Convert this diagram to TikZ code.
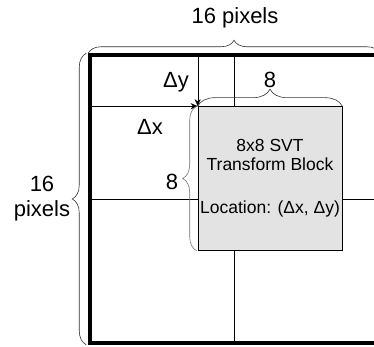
\documentclass[tikz,border=0pt]{standalone}
\usepackage{fontspec}
\setmainfont{Liberation Sans}
\usetikzlibrary{arrows.meta,decorations.pathreplacing}
\begin{document}
\begin{tikzpicture}[
  x=1pt, y=1pt,
  lbl/.style={font=\fontsize{22}{25}\selectfont, inner sep=0pt},
  txt/.style={font=\fontsize{17.5}{20}\selectfont, inner sep=0pt},
  grid/.style={draw, line width=3.5pt, minimum size=288pt, inner sep=0pt},
  block/.style={draw, line width=0.6pt, fill=gray!22, minimum size=144pt, inner sep=0pt},
  bracket/.style={draw=black!80, line width=0.6pt, decorate, decoration={brace, amplitude=#1}},
  arr/.style={-{Stealth[length=7pt,width=6pt]}}
]
  \clip (0,0) rectangle (374,347);
  \node[grid] (sq) at (234,148) {};
  \draw (sq.north) -- (sq.south);
  \draw (sq.west) -- (sq.east);
  \node[block] (blk) at (270,168.5) {};
  \coordinate (c) at (blk.north west);
  \draw[arr] (sq.west |- c) -- (c);
  \draw[arr] (sq.north -| c) -- (c);
  \node[txt] (t1) at (270,202) {8x8 SVT};
  \node[txt] (t2) at (270,183) {Transform Block};
  \node[txt] (t3) at (270,138) {Location: (Δx, Δy)};
  \draw[bracket=13] (sq.north west) -- (sq.north east);
  \draw[bracket=14] ([xshift=-2pt]sq.south west) -- ([xshift=-2pt]sq.north west);
  \draw[bracket=17] (blk.north west) -- (blk.north east);
  \draw[bracket=14, draw=black!55] ([xshift=-1pt]blk.south west) -- ([xshift=-1pt]blk.north west);
  \node[lbl] (w) at (235,329) {16 pixels};
  \node[lbl, align=center] (h) at (42,148) {16\\pixels};
  \node[lbl] (dy) at (176,265) {Δy};
  \node[lbl] (dx) at (150,220) {Δx};
  \node[lbl] (bw) at (270,267) {8};
  \node[lbl] (bh) at (172,165) {8};
\end{tikzpicture}
\end{document}
